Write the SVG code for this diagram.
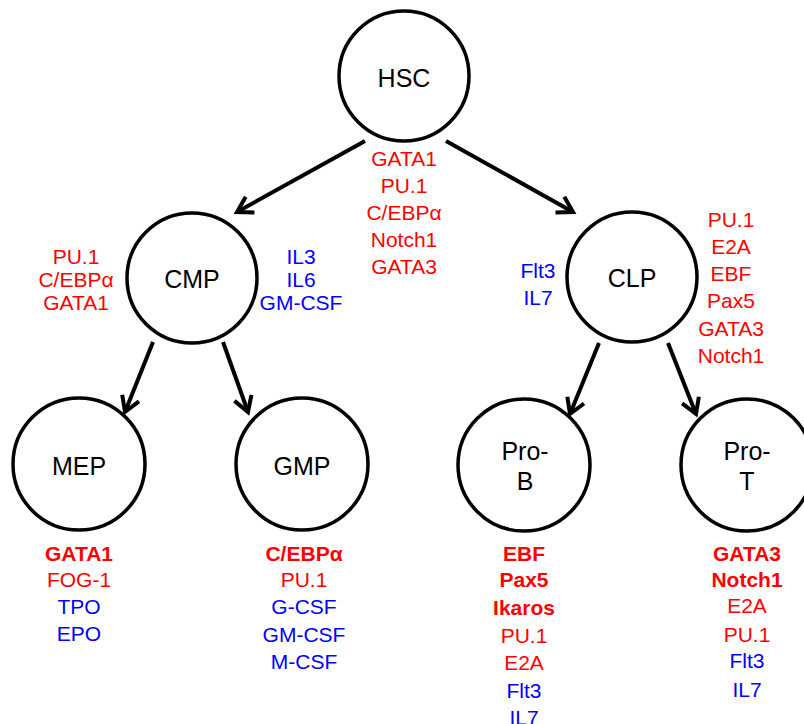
<svg xmlns="http://www.w3.org/2000/svg" width="804" height="724" viewBox="0 0 804 724">
<style>
.c{fill:#fff;stroke:#000;stroke-width:3.5}
.n{font-family:"Liberation Sans",Arial,sans-serif;font-size:25px;fill:#000;text-anchor:middle}
.r{font-family:"Liberation Sans",Arial,sans-serif;font-size:21px;fill:#ff0000;text-anchor:middle}
.b{font-family:"Liberation Sans",Arial,sans-serif;font-size:21px;fill:#0000ff;text-anchor:middle}
.bold{font-weight:bold}
.e{stroke:#000;stroke-width:4;fill:none}
</style>
<defs>
<marker id="ah" markerUnits="userSpaceOnUse" markerWidth="40" markerHeight="40" refX="0" refY="0" viewBox="-20 -20 40 40" orient="auto" overflow="visible">
<path d="M-15,-9 L0,0 L-15,9" fill="none" stroke="#000" stroke-width="4" stroke-linejoin="miter"/>
</marker>
</defs>
<rect width="804" height="724" fill="#fff"/>
<g id="connectors">
<line class="e" x1="365" y1="141" x2="237" y2="212" marker-end="url(#ah)"/>
<line class="e" x1="446" y1="141" x2="573" y2="212" marker-end="url(#ah)"/>
<line class="e" x1="153" y1="342" x2="125" y2="412" marker-end="url(#ah)"/>
<line class="e" x1="223" y1="342" x2="248" y2="412" marker-end="url(#ah)"/>
<line class="e" x1="599" y1="343" x2="570" y2="414" marker-end="url(#ah)"/>
<line class="e" x1="668" y1="343" x2="696" y2="414" marker-end="url(#ah)"/>
</g>
<g id="HSC">
<circle class="c" cx="404" cy="76" r="65"/>
<text class="n" x="404" y="87">HSC</text>
<text class="r" x="404" y="166">GATA1</text>
<text class="r" x="404" y="193">PU.1</text>
<text class="r" x="404" y="220">C/EBPα</text>
<text class="r" x="404" y="247">Notch1</text>
<text class="r" x="404" y="274">GATA3</text>
</g>
<g id="CMP">
<circle class="c" cx="192" cy="278" r="65"/>
<text class="n" x="192" y="288">CMP</text>
<text class="r" x="76" y="264">PU.1</text>
<text class="r" x="76" y="287">C/EBPα</text>
<text class="r" x="76" y="310">GATA1</text>
<text class="b" x="301" y="264">IL3</text>
<text class="b" x="301" y="287">IL6</text>
<text class="b" x="301" y="310">GM-CSF</text>
</g>
<g id="CLP">
<circle class="c" cx="632" cy="277" r="65"/>
<text class="n" x="632" y="287">CLP</text>
<text class="b" x="538" y="278">Flt3</text>
<text class="b" x="538" y="305">IL7</text>
<text class="r" x="731" y="227">PU.1</text>
<text class="r" x="731" y="254">E2A</text>
<text class="r" x="731" y="281">EBF</text>
<text class="r" x="731" y="308">Pax5</text>
<text class="r" x="731" y="336">GATA3</text>
<text class="r" x="731" y="363">Notch1</text>
</g>
<g id="MEP">
<circle class="c" cx="79" cy="464" r="66"/>
<text class="n" x="79" y="475">MEP</text>
<text class="r bold" x="79" y="561">GATA1</text>
<text class="r" x="79" y="587">FOG-1</text>
<text class="b" x="79" y="614">TPO</text>
<text class="b" x="79" y="641">EPO</text>
</g>
<g id="GMP">
<circle class="c" cx="302" cy="464" r="66"/>
<text class="n" x="302" y="475">GMP</text>
<text class="r bold" x="304" y="561">C/EBPα</text>
<text class="r" x="304" y="587">PU.1</text>
<text class="b" x="304" y="614">G-CSF</text>
<text class="b" x="304" y="642">GM-CSF</text>
<text class="b" x="304" y="669">M-CSF</text>
</g>
<g id="ProB">
<circle class="c" cx="524" cy="465" r="66"/>
<text class="n" x="525" y="460">Pro-</text>
<text class="n" x="525" y="490">B</text>
<text class="r bold" x="524" y="561">EBF</text>
<text class="r bold" x="524" y="587">Pax5</text>
<text class="r bold" x="524" y="615">Ikaros</text>
<text class="r" x="524" y="643">PU.1</text>
<text class="r" x="524" y="670">E2A</text>
<text class="b" x="524" y="698">Flt3</text>
<text class="b" x="524" y="725">IL7</text>
</g>
<g id="ProT">
<circle class="c" cx="747" cy="465" r="66"/>
<text class="n" x="747" y="460">Pro-</text>
<text class="n" x="747" y="490">T</text>
<text class="r bold" x="747" y="561">GATA3</text>
<text class="r bold" x="747" y="587">Notch1</text>
<text class="r" x="747" y="613">E2A</text>
<text class="r" x="747" y="642">PU.1</text>
<text class="b" x="747" y="668">Flt3</text>
<text class="b" x="747" y="697">IL7</text>
</g>
</svg>
